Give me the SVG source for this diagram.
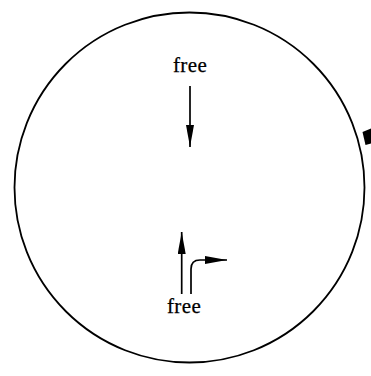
<svg xmlns="http://www.w3.org/2000/svg" width="371" height="376" viewBox="0 0 371 376">
<style>
.lbl{font-family:"Liberation Serif","DejaVu Serif",serif;font-size:21px;letter-spacing:0.4px;fill:#000;stroke:#000;stroke-width:0.25;text-anchor:middle}
.ln{fill:none;stroke:#000;stroke-width:1.7}
</style>
<defs>
<marker id="ah" viewBox="0 0 22 8" refX="22" refY="4" markerWidth="22" markerHeight="8" markerUnits="userSpaceOnUse" orient="auto">
<path d="M0,0 L22,4 L0,8 Z" fill="#000"/>
</marker>
</defs>
<rect width="371" height="376" fill="#fff"/>
<g id="region">
<circle cx="189.5" cy="187.5" r="175" fill="none" stroke="#000" stroke-width="1.8"/>
</g>
<g id="edge-stub">
<polygon points="362.5,132 371,128.5 371,143.5 365.5,145" fill="#000"/>
</g>
<g id="top">
<text class="lbl" x="190" y="72">free</text>
</g>
<g id="bottom">
<text class="lbl" x="184" y="313">free</text>
</g>
<g id="connectors">
<path class="ln" d="M190,86 L190,147" marker-end="url(#ah)"/>
<path class="ln" d="M181.7,294 L181.7,232" marker-end="url(#ah)"/>
<path class="ln" d="M191,294 L191,269 Q191,260 200,260 L227,260" marker-end="url(#ah)"/>
</g>
</svg>
